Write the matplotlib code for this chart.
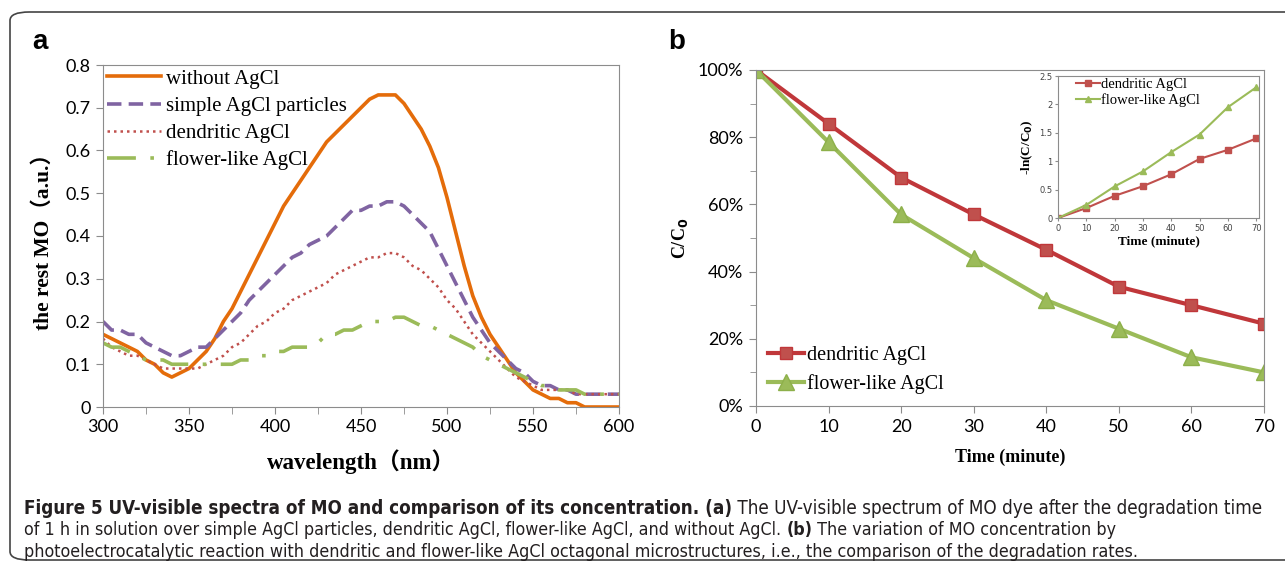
import matplotlib
matplotlib.use('Agg')
import os
import matplotlib.pyplot as plt
from matplotlib.patches import FancyBboxPatch
from matplotlib import font_manager
from matplotlib.font_manager import FontProperties
from matplotlib.ticker import MultipleLocator, FuncFormatter

# panel a: UV-vis spectra
wavelength = [300, 305, 310, 315, 320, 325, 330, 335, 340, 345, 350, 355, 360, 365, 370,
              375, 380, 385, 390, 395, 400, 405, 410, 415, 420, 425, 430, 435, 440, 445,
              450, 455, 460, 465, 470, 475, 480, 485, 490, 495, 500, 505, 510, 515, 520,
              525, 530, 535, 540, 545, 550, 555, 560, 565, 570, 575, 580, 585, 590, 595, 600]
without_agcl = [.17, .16, .15, .14, .13, .11, .10, .08, .07, .08, .09, .11, .13, .16, .20,
                .23, .27, .31, .35, .39, .43, .47, .50, .53, .56, .59, .62, .64, .66, .68,
                .70, .72, .73, .73, .73, .71, .68, .65, .61, .56, .49, .41, .33, .26, .21,
                .17, .14, .11, .08, .06, .04, .03, .02, .02, .01, .01, 0, 0, 0, 0, 0]
simple_agcl = [.20, .18, .18, .17, .17, .15, .14, .13, .12, .12, .13, .14, .14, .16, .18,
               .20, .22, .25, .27, .29, .31, .33, .35, .36, .38, .39, .40, .42, .44, .46,
               .46, .47, .47, .48, .48, .47, .45, .43, .41, .37, .33, .29, .25, .21, .18,
               .15, .13, .11, .09, .08, .06, .05, .05, .04, .04, .03, .03, .03, .03, .03, .03]
dendritic_spec = [.16, .14, .13, .12, .12, .11, .10, .09, .09, .09, .09, .09, .10, .11, .12,
                  .14, .15, .17, .19, .20, .22, .23, .25, .26, .27, .28, .29, .31, .32, .33,
                  .34, .35, .35, .36, .36, .35, .33, .32, .30, .28, .25, .23, .20, .17, .15,
                  .13, .11, .09, .07, .06, .05, .04, .04, .04, .04, .03, .03, .03, .03, .03, .03]
flower_spec = [.15, .14, .14, .13, .12, .11, .11, .11, .10, .10, .10, .10, .10, .10, .10,
               .10, .11, .11, .12, .12, .13, .13, .14, .14, .14, .15, .17, .17, .18, .18,
               .19, .20, .20, .20, .21, .21, .20, .19, .19, .18, .17, .16, .15, .14, .12,
               .11, .10, .09, .08, .07, .06, .05, .05, .04, .04, .04, .03, .03, .03, .03, .03]

# panel b: degradation
time_min = [0, 10, 20, 30, 40, 50, 60, 70]
dendritic_c = [100, 84, 68, 57, 46.5, 35.5, 30, 24.5]
flower_c = [100, 78.5, 57, 44, 31.5, 23, 14.5, 10]
dendritic_ln = [0, 0.175, 0.39, 0.56, 0.77, 1.04, 1.20, 1.40]
flower_ln = [0, 0.23, 0.556, 0.82, 1.16, 1.47, 1.95, 2.30]

serif = ['Liberation Serif', 'Noto Sans CJK SC', 'DejaVu Serif']
tickfont = 'Lato'


def font_file(basename):
    for f in font_manager.fontManager.ttflist:
        if os.path.basename(f.fname) == basename:
            return f.fname
    return None


cond_regular = font_file('DejaVuSansCondensed.ttf')
cond_bold = font_file('DejaVuSansCondensed-Bold.ttf')


def cap_props(weight):
    fn = cond_bold if weight == 'bold' else cond_regular
    if fn:
        return FontProperties(fname=fn)
    return FontProperties(family='Roboto', weight=weight)


W, H = 1285, 568
fig = plt.figure(figsize=(W / 100, H / 100), dpi=100)


def rect(l, t, r, b):
    return [l / W, 1 - b / H, (r - l) / W, (b - t) / H]


spine_c = '#8c8c8c'

# outer rounded frame
fig.patches.append(FancyBboxPatch((10 / W, 8 / H), 1.2, 1 - 20 / H,
                                  boxstyle='round,pad=0,rounding_size=0.015',
                                  transform=fig.transFigure, fill=False,
                                  edgecolor='#444444', linewidth=1.2))

# ---------- panel a ----------
ax = fig.add_axes(rect(103, 65, 619, 407))
ax.plot(wavelength, without_agcl, color='#E46C0A', lw=2.6, label='without AgCl')
ax.plot(wavelength, simple_agcl, color='#8064A2', lw=2.6, dashes=(4, 2), label='simple AgCl particles')
ax.plot(wavelength, dendritic_spec, color='#C0504D', lw=1.8, dashes=(1, 1.6), label='dendritic AgCl')
ax.plot(wavelength, flower_spec, color='#9BBB59', lw=2.6, dashes=(8, 4, 1, 4), label='flower-like AgCl')
ax.set_xlim(300, 600)
ax.set_ylim(0, 0.8)
ax.xaxis.set_major_locator(MultipleLocator(50))
ax.xaxis.set_minor_locator(MultipleLocator(25))
ax.yaxis.set_major_locator(MultipleLocator(0.1))
ax.yaxis.set_major_formatter(FuncFormatter(lambda v, p: '0' if v == 0 else '%.1f' % v))
ax.tick_params(which='both', direction='out', color=spine_c, labelsize=13, pad=4)
ax.tick_params(which='major', length=5)
ax.tick_params(which='minor', length=5)
for lab in ax.get_xticklabels() + ax.get_yticklabels():
    lab.set_fontfamily(tickfont)
for s in ax.spines.values():
    s.set_color(spine_c)
ax.set_xlabel('wavelength（nm）', family=serif, fontweight='bold', fontsize=16.5, labelpad=10)
ax.set_ylabel('the rest MO（a.u.）', family=serif, fontweight='bold', fontsize=15.5, labelpad=8)
leg = ax.legend(loc='upper left', frameon=False, prop={'family': serif, 'size': 15},
                handlelength=2.6, handletextpad=0.2, labelspacing=0.36,
                borderaxespad=0.1, borderpad=0.1)
fig.text(32 / W, 1 - 42 / H, 'a', fontsize=20, fontweight='bold', family='Liberation Sans', va='center')

# ---------- panel b ----------
bx = fig.add_axes(rect(756, 70, 1264, 406))
bx.plot(time_min, dendritic_c, color='#C0373A', lw=3, marker='s', ms=9,
        mfc='#C0504D', mec='#C0373A', label='dendritic AgCl')
bx.plot(time_min, flower_c, color='#9BBB59', lw=3, marker='^', ms=11,
        mfc='#9BBB59', mec='#8DB04A', label='flower-like AgCl')
bx.set_xlim(0, 70)
bx.set_ylim(0, 100)
bx.xaxis.set_major_locator(MultipleLocator(10))
bx.yaxis.set_major_locator(MultipleLocator(20))
bx.yaxis.set_minor_locator(MultipleLocator(10))
bx.yaxis.set_major_formatter(FuncFormatter(lambda v, p: '%d%%' % v))
bx.tick_params(which='both', direction='out', color=spine_c, labelsize=13, pad=4)
bx.tick_params(which='major', length=5)
bx.tick_params(which='minor', length=4)
for lab in bx.get_xticklabels() + bx.get_yticklabels():
    lab.set_fontfamily(tickfont)
for s in bx.spines.values():
    s.set_color(spine_c)
bx.set_xlabel('Time (minute)', family=serif, fontweight='bold', fontsize=13, labelpad=10)
bx.set_ylabel('C/C$_\\mathbf{0}$', family=serif, fontweight='bold', fontsize=13, labelpad=6)
bx.legend(loc='lower left', frameon=False, prop={'family': serif, 'size': 14.5},
          handlelength=1.8, handletextpad=0.15, labelspacing=0.45,
          borderaxespad=0.2, bbox_to_anchor=(0, 0.0))
fig.text(668 / W, 1 - 42 / H, 'b', fontsize=20, fontweight='bold', family='Liberation Sans', va='center')

# inset
ix = fig.add_axes(rect(1058, 76, 1259, 218))
ix.plot(time_min, dendritic_ln, color='#C0504D', lw=1.5, marker='s', ms=4, label='dendritic AgCl')
ix.plot(time_min, flower_ln, color='#9BBB59', lw=1.5, marker='^', ms=5, label='flower-like AgCl')
ix.set_xlim(0, 71)
ix.set_ylim(0, 2.5)
ix.xaxis.set_major_locator(MultipleLocator(10))
ix.yaxis.set_major_locator(MultipleLocator(0.5))
ix.yaxis.set_major_formatter(FuncFormatter(lambda v, p: '%g' % v))
ix.tick_params(direction='out', color=spine_c, labelsize=6, length=2, pad=2, labelcolor='#444444')
for s in ix.spines.values():
    s.set_color(spine_c)
ix.set_xlabel('Time (minute)', family=serif, fontweight='bold', fontsize=9.5, labelpad=2)
ix.set_ylabel('-ln(C/C$_\\mathbf{0}$)', family=serif, fontweight='bold', fontsize=9.5, labelpad=3)
ix.legend(loc='upper left', frameon=False, prop={'family': serif, 'size': 10.5},
          handlelength=1.6, handletextpad=0.1, labelspacing=0.2,
          borderaxespad=0.1, borderpad=0.2, bbox_to_anchor=(0.07, 1.02))

# ---------- caption ----------
lines = [
    [('Figure 5 UV-visible spectra of MO and comparison of its concentration. (a)', 'bold'),
     (' The UV-visible spectrum of MO dye after the degradation time', 'normal')],
    [('of 1 h in solution over simple AgCl particles, dendritic AgCl, flower-like AgCl, and without AgCl. ', 'normal'),
     ('(b)', 'bold'), (' The variation of MO concentration by', 'normal')],
    [('photoelectrocatalytic reaction with dendritic and flower-like AgCl octagonal microstructures, '
      'i.e., the comparison of the degradation rates.', 'normal')],
]
line_widths = [1239, 1091, 1119]   # pixel length of each caption line in the reference
renderer = fig.canvas.get_renderer()
ys = [508, 530, 552]
for line, yy, target in zip(lines, ys, line_widths):
    # measure the line at 10 pt, then scale so it spans the same width
    total = 0
    for txt, wt in line:
        fp = cap_props(wt)
        fp.set_size(10)
        t = fig.text(0, 0, txt, fontproperties=fp)
        total += t.get_window_extent(renderer).width
        t.remove()
    size = 10 * target / total
    x = 24
    for txt, wt in line:
        fp = cap_props(wt)
        fp.set_size(size)
        t = fig.text(x / W, 1 - yy / H, txt, fontproperties=fp,
                     color='#231F20', va='center')
        x += t.get_window_extent(renderer).width

fig.savefig('out.png', dpi=100)
